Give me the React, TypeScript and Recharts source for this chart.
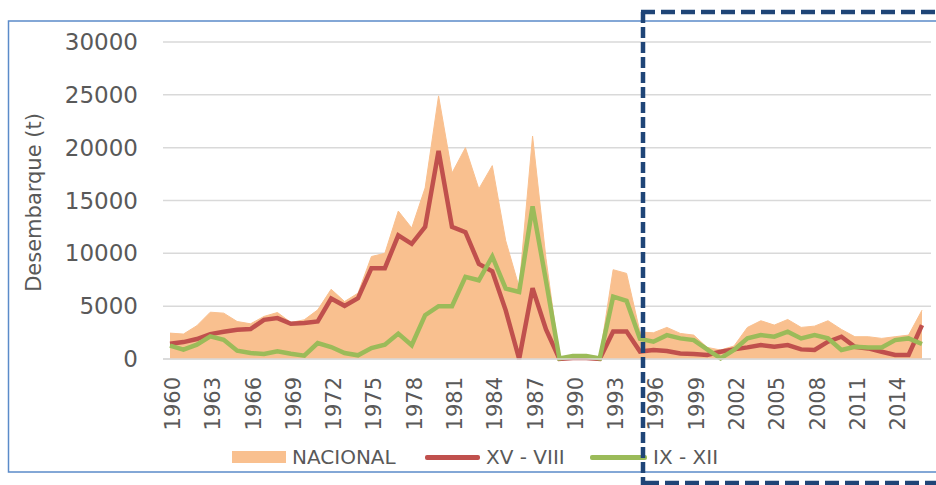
import React from 'react';
import { ComposedChart, Area, Line, XAxis, YAxis, CartesianGrid, Legend } from 'recharts';

const years: string[] = [
  '1960','1961','1962','1963','1964','1965','1966','1967','1968','1969',
  '1970','1971','1972','1973','1974','1975','1976','1977','1978','1979',
  '1980','1981','1982','1983','1984','1985','1986','1987','1988','1989',
  '1990','1991','1992','1993','1994','1995','1996','1997','1998','1999',
  '2000','2001','2002','2003','2004','2005','2006','2007','2008','2009',
  '2010','2011','2012','2013','2014','2015','2016',
];

const nacional: number[] = [
  2450, 2360, 3150, 4430, 4340, 3550, 3330, 4030, 4400, 3460,
  3710, 4650, 6600, 5440, 6230, 9700, 10000, 14000, 12400, 16200,
  24900, 17600, 20000, 16100, 18300, 11200, 6800, 21100, 9500, 100,
  380, 380, 200, 8450, 8100, 2550, 2480, 2990, 2420, 2260,
  1100, 850, 1230, 2990, 3620, 3210, 3740, 2990, 3110, 3620,
  2800, 2110, 2110, 1950, 2110, 2260, 4620,
];

const norte: number[] = [
  1450, 1600, 1890, 2360, 2580, 2770, 2830, 3710, 3870, 3330,
  3400, 3550, 5720, 5030, 5750, 8600, 8600, 11700, 10900, 12500,
  19700, 12500, 12000, 9000, 8300, 4600, 0, 6700, 2800, 0,
  100, 100, 0, 2600, 2600, 700, 850, 750, 530, 470,
  380, 690, 910, 1100, 1320, 1160, 1320, 910, 850, 1640,
  2110, 1160, 1000, 690, 380, 380, 3210,
];

const sur: number[] = [
  1260, 880, 1350, 2140, 1820, 790, 570, 470, 720, 500,
  310, 1510, 1130, 570, 350, 1040, 1350, 2400, 1300, 4150,
  5000, 5000, 7770, 7450, 9700, 6670, 6350, 14440, 7400, 60,
  280, 280, 60, 5900, 5500, 1900, 1640, 2260, 1950, 1790,
  910, 60, 850, 1950, 2260, 2110, 2580, 1950, 2260, 1950,
  850, 1160, 1100, 1100, 1790, 1950, 1420,
];

const yTicks: number[] = [0, 5000, 10000, 15000, 20000, 25000, 30000];
const seriesKeys: string[] = ['nacional', 'norte', 'sur'];
const seriesNames: string[] = ['NACIONAL', 'XV - VIII', 'IX - XII'];
const seriesColors: string[] = ['#F9C08F', '#C0504D', '#9BBB59'];

const data = years.map((y, i) => ({
  year: y,
  nacional: nacional[i],
  norte: norte[i],
  sur: sur[i],
}));

const FONT = '"DejaVu Sans", sans-serif';
const TEXT = '#595959';

const XTick = (props: any) => {
  const { x, y, payload } = props;
  return (
    <g transform={`translate(${x},${y})`}>
      <text
        transform="rotate(-90)"
        x={-16}
        y={10}
        textAnchor="end"
        fill={TEXT}
        fontSize={21}
        fontFamily={FONT}
      >
        {payload.value}
      </text>
    </g>
  );
};

const YLabel = (props: any) => {
  const vb = props.viewBox || { x: 0, y: 0, width: 0, height: 0 };
  const cx = 34;
  const cy = vb.y + vb.height / 2 + 2;
  return (
    <text
      x={cx}
      y={cy}
      transform={`rotate(-90, ${cx}, ${cy})`}
      textAnchor="middle"
      dominantBaseline="central"
      fill={TEXT}
      fontSize={21}
      fontFamily={FONT}
    >
      Desembarque (t)
    </text>
  );
};

const legendLefts = [232, 425, 590];
const markerWidths = [54, 55, 57];

const renderLegend = (props: any) => {
  const payload: any[] = props.payload || [];
  const ordered = seriesKeys.map((k, i) => {
    const found = payload.find((p: any) => p.dataKey === k);
    return { key: k, name: found ? found.value : seriesNames[i] };
  });
  return (
    <div style={{ position: 'relative', width: 936, height: 24 }}>
      {ordered.map((item: any, i: number) => {
        const left = legendLefts[i];
        const w = markerWidths[i];
        const isArea = i === 0;
        return (
          <div key={item.key}>
            <div
              style={{
                position: 'absolute',
                left,
                top: isArea ? 6 : 10,
                width: w,
                height: isArea ? 12 : 5,
                background: seriesColors[i],
                borderRadius: isArea ? 0 : 2,
              }}
            />
            <div
              style={{
                position: 'absolute',
                left: left + w + 6,
                top: 0,
                height: 24,
                lineHeight: '24px',
                fontSize: 20,
                fontFamily: FONT,
                color: TEXT,
                whiteSpace: 'nowrap',
              }}
            >
              {item.name}
            </div>
          </div>
        );
      })}
    </div>
  );
};

export default function App() {
  return (
    <div style={{ position: 'fixed', left: 0, top: 0, width: 936, height: 485, background: '#ffffff', overflow: 'hidden' }}>
      <ComposedChart
        width={936}
        height={485}
        data={data}
        margin={{ top: 42, right: 5, bottom: 0, left: 0 }}
      >
        <CartesianGrid horizontal vertical={false} stroke="#D9D9D9" strokeWidth={1.5} />
        <XAxis
          dataKey="year"
          interval={2}
          tick={<XTick />}
          tickLine={false}
          tickSize={0}
          axisLine={{ stroke: '#D9D9D9', strokeWidth: 1.5 }}
          height={126}
          padding={{ left: 7, right: 9 }}
        />
        <YAxis
          domain={[0, 30000]}
          ticks={yTicks}
          width={163}
          tickLine={false}
          axisLine={false}
          tickSize={0}
          tickMargin={25}
          tick={{ fill: TEXT, fontSize: 23, fontFamily: FONT }}
          label={<YLabel />}
        />
        <Area
          type="linear"
          dataKey="nacional"
          name="NACIONAL"
          fill="#F9C08F"
          stroke="#F9C08F"
          strokeWidth={1}
          fillOpacity={1}
          isAnimationActive={false}
        />
        <Line
          type="linear"
          dataKey="norte"
          name="XV - VIII"
          stroke="#C0504D"
          strokeWidth={4.5}
          dot={false}
          isAnimationActive={false}
        />
        <Line
          type="linear"
          dataKey="sur"
          name="IX - XII"
          stroke="#9BBB59"
          strokeWidth={4.5}
          dot={false}
          isAnimationActive={false}
        />
        <Legend
          layout="horizontal"
          verticalAlign="middle"
          align="center"
          wrapperStyle={{ position: 'absolute', top: 445, left: 0, width: 936, height: 24 }}
          content={renderLegend}
        />
      </ComposedChart>
      <svg
        width={936}
        height={485}
        style={{ position: 'absolute', left: 0, top: 0, pointerEvents: 'none' }}
      >
        <rect x={8.5} y={21} width={1000} height={451} fill="none" stroke="#5B8BC9" strokeWidth={1.5} />
        <line x1={643} y1={12} x2={643} y2={485} stroke="#1F4577" strokeWidth={4.5} strokeDasharray="11 4" />
        <line x1={641} y1={12} x2={940} y2={12} stroke="#1F4577" strokeWidth={4.5} strokeDasharray="14 6" />
        <line x1={645} y1={483} x2={940} y2={483} stroke="#1F4577" strokeWidth={4.5} strokeDasharray="14 6" />
      </svg>
    </div>
  );
}
